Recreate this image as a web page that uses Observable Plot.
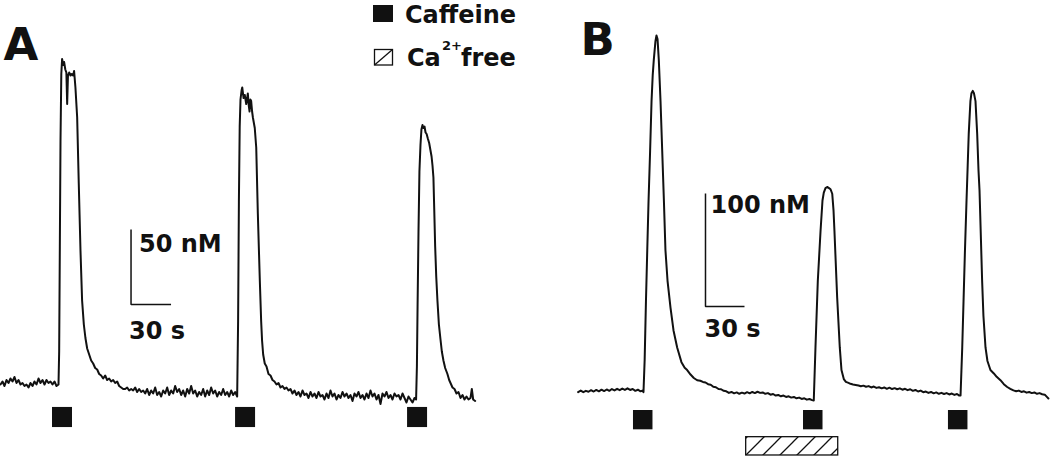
<!DOCTYPE html>
<html><head><meta charset="utf-8">
<script src="https://cdn.jsdelivr.net/npm/d3@7"></script>
<script src="https://cdn.jsdelivr.net/npm/@observablehq/plot@0.6"></script>
<style>
html,body{margin:0;padding:0;background:#fff;}
#fig{position:relative;width:1050px;height:456px;overflow:hidden;}
#panelA{position:absolute;left:0;top:0;}
#panelB{position:absolute;left:575px;top:0;}
#legend{position:absolute;left:0;top:0;pointer-events:none;}
</style></head><body>
<div id="fig">
<div id="panelA"></div>
<div id="panelB"></div>
<svg id="legend" width="1050" height="80" font-family="DejaVu Sans, sans-serif" font-weight="bold" fill="#111">
<rect x="373" y="5" width="20" height="17"/>
<text x="405" y="22.5" font-size="24">Caffeine</text>
<rect x="374.5" y="49.5" width="18" height="15.5" fill="none" stroke="#111" stroke-width="1.3"/>
<line x1="374.5" y1="65" x2="392.5" y2="49.5" stroke="#111" stroke-width="1.3"/>
<text x="407" y="65.7" font-size="24">Ca</text>
<text x="442" y="50" font-size="13">2+</text>
<text x="461" y="65.7" font-size="24">free</text>
</svg>
</div>
<script>
// ---- data: [time (s), [Ca2+]i (nM)] ----
const traceA = [
[0,98],[1.5,100],[3,97],[4.5,101],[6,99],[7.5,102],[9,100],[10.5,103],[12,99],[13.5,101],[15,98],[16.5,99],[18,97],[19.5,98],[21,96],[22.5,99],[24,97],[25.5,100],[27,98],[28.5,102],[30,99],[31.5,101],[33,98],[34.5,101],[36,99],[37.5,100],[39,98],[40.5,100],[42,97],[43.5,98],
[44,120],[44.5,190],[45,260],[45.6,305],[46.2,315],[47,311],[47.7,313],[48.6,308],[49.4,306],[50,285],[50.6,304],[51.5,306],[52.5,304],[53.5,305],[54.5,304],[55.2,307],[56.2,296],[57.5,276],[58.7,232],[60,187],[61.2,154],[62.5,138],[63.7,129],[65,122],[66.5,118],[68,114],[69.5,112],[71,109],[72.5,108],[74,105],[75.5,104],[77,102],[78.5,104],[80,101],[81.5,102],[83,100],[84.5,101],[86,99],[87.5,100],[89,97],[90.5,96],[92,95],
[93.5,95],[95,96],[96.5,94],[98,95],[99.5,94],[101,96],[102.5,93],[104,95],[105.5,93],[107,94],[108.5,92],[110,95],[111.5,91],[113,94],[114.5,92],[116,96],[117.5,91],[119,93],[120.5,90],[122,94],[123.5,92],[125,96],[126.5,91],[128,94],[129.5,92],[131,97],[132.5,93],[134,95],[135.5,91],[137,94],[138.5,90],[140,95],[141.5,92],[143,97],[144.5,92],[146,94],[147.5,90],[149,93],[150.5,91],[152,95],[153.5,90],[155,94],[156.5,91],[158,96],[159.5,92],[161,94],[162.5,90],[164,93],[165.5,91],[167,95],[168.5,91],[170,93],[171.5,90],[173,94],[174.5,91],[176,93],[177.5,90],
[178.2,140],[178.8,220],[179.4,270],[180,288],[180.8,294],[181.3,296],[182.3,289],[183.2,291],[184.3,285],[185.5,292],[186.2,284],[186.8,280],[187.4,288],[188,287],[188.7,280],[189.3,276],[190.7,269],[191.8,256],[193,212],[194.5,167],[195.5,140],[196.2,127],[197,118],[198.2,112],[199.5,110],[201,105],[202.5,104],[204,101],[205.5,100],[207,98],[208.5,99],[210,96],[211.5,97],[213,95],[214.5,96],[216,94],
[217.5,95],[219,92],[220.5,94],[222,91],[223.5,93],[225,90],[226.5,94],[228,91],[229.5,92],[231,89],[232.5,93],[234,90],[235.5,92],[237,89],[238.5,93],[240,90],[241.5,91],[243,88],[244.5,92],[246,89],[247.5,94],[249,90],[250.5,92],[252,88],[253.5,91],[255,89],[256.5,93],[258,90],[259.5,92],[261,89],[262.5,91],[264,87],[265.5,92],[267,90],[268.5,93],[270,89],[271.5,91],[273,88],[274.5,92],[276,89],[277.5,94],[279,90],[280.5,92],[282,88],[283.5,91],[285,85],[286.5,92],[288,90],[289.5,93],[291,89],[292.5,91],[294,88],[295.5,92],[297,90],[298.5,91],[300,88],[301.5,92],[303,89],[304.5,86],[306,90],[307.5,88],[309,86],[310.5,89],[311.7,88],
[312.3,110],[312.8,150],[313.5,200],[314.2,240],[315,258],[315.7,268],[316.5,271],[317.2,269],[318,270],[318.8,266],[319.6,265],[320.5,262],[321.5,259],[322.5,254],[323.3,250],[324,244],[324.7,236],[325.3,215],[326,190],[326.8,170],[327.7,154],[328.8,138],[330,128],[331,120],[332.2,114],[333.5,109],[335.2,105],[336.5,101],[337.5,99],[339,96],[340.5,95],[342,92],[343.5,93],[345,89],[346.5,91],[348,88],[349.5,90],[351,88],[352.5,89],[353.5,95],[354.5,88],[356,87]
];
const traceB = [
[2,99.5],[4,100.8],[6,99.4],[8,100.6],[10,99.8],[12,101.2],[14,100],[16,101.4],[18,100.2],[20,101.6],[22,100.4],[24,101.8],[26,100.6],[28,102.2],[30,101],[32,102.4],[34,101.2],[36,102.6],[38,101.4],[40,102.8],[42,101.4],[44,102.2],[46,100.6],[48,101.6],[50,100.2],[51.5,100.8],[52.3,99.5],
[53.2,128],[54.2,180],[55.2,225],[56.2,269],[57.4,313],[58.5,357],[59.4,380],[60.2,393],[61.5,410],[62.3,415],[63.1,412],[64.1,393],[65.4,357],[66.7,313],[68,269],[69.2,225],[70.8,198],[73.1,174],[75.4,154],[78.2,139],[81.5,126],[84,121],[85.9,119],[88.5,115],[91,112],[93.6,110],[96,109.5],[98,108.5],[100,108],
[102,106.5],[104,106],[106,104.2],[108,103.8],[110,102.2],[112,102],[114,100.6],[116,100.2],[118,98.8],[120,99.6],[122,98.4],[124,99.2],[126,98],[128,99],[130,98.2],[132,99.4],[134,98.4],[136,99.6],[138,98.6],[140,99.8],[142,98.8],[144,99.2],[146,98],[148,98.6],[150,97.2],[152,97.8],[154,96.4],[156,97],[158,95.8],[160,96.4],[162,95.2],[164,95.8],[166,94.6],[168,95.2],[170,94],[172,94.6],[174,93.4],[176,94],[178,92.8],[180,93.4],[182,92.4],[183.3,92],
[184.6,139],[186.4,198],[188.5,242],[190,269],[191,276],[192.3,280],[193.6,281],[195,280],[196.2,279],[197.5,275],[198.5,260],[199.2,242],[201.3,183],[203.3,139],[204.6,119],[206.4,111],[208,108.5],[210,107.6],[211.5,106.8],[213.5,106.2],[215.5,105.8],[217.7,105.3],
[219.5,104.6],[221.5,105.2],[223.5,104.2],[225.5,104.8],[227.5,103.6],[229.5,104.4],[231.5,103.2],[233.5,103.8],[235.5,102.8],[237.5,103.6],[239.5,102.4],[241.5,103.4],[243.5,102.2],[245.5,103],[247.5,102],[249.5,102.8],[251.5,101.6],[253.5,102.4],[255.5,101.2],[257.5,102],[259.5,100.6],[261.5,101.4],[263.5,100],[265.5,100.8],[267.5,99.4],[269.5,100],[271.5,98.8],[273.5,99.6],[275.5,98.4],[277.5,99.2],[279.5,98],[281.5,98.8],[283.5,97.8],[285.5,98.6],[287.5,97.4],[289.5,98.2],[291.5,97],[293.5,97.8],[295.2,96.4],[296.2,96.5],
[297.5,139],[298.5,180],[299.6,225],[300.8,269],[301.7,300],[302.5,328],[303.8,357],[304.6,364],[305.6,366],[306.5,364],[307.7,357],[309,328],[310,296],[310.8,278],[311.9,234],[312.8,198],[313.8,167],[315.4,139],[316.9,127],[319.2,119],[321.8,116],[324,113],[326.9,110],[329.5,106.5],[332.1,104],[334.5,102.4],[336.9,101],[339,100.2],[341,100.8],[343,99.6],[345,100.2],[347,99],[349,99.6],[351,98.6],[353,99.2],[355,98],[357,98.6],[359,97.6],[361,97.2],[362.8,95],[363.8,93.8]
];
const caffeineA = [39, 176.3, 305.3];      // application start (s)
const caffeineB = [44.6, 175.4, 286.9];
const caffeineDuration = 15;               // s
const calciumFreeB = [[131.3, 202.1]];     // Ca2+-free period (s)
const scaleBarA = {time: 30, conc: 50, timeLabel: "30 s", concLabel: "50 nM"};
const scaleBarB = {time: 30, conc: 100, timeLabel: "30 s", concLabel: "100 nM"};

// ---- layout ----
const layoutA = {label: "A", width: 575, x: [0, 431.25], y: [50, 354], bar: [97.9, 151.3],
  marker: [69.3, 82.7], labelDx: 3, labelDy: 28, concDx: 8, concDy: 22.5, timeDx: -2, timeDy: 34};
const layoutB = {label: "B", width: 475, x: [0, 365.4], y: [42.5, 446], bar: [100, 175.2],
  marker: [66.1, 83.2], freeRow: [43.4, 59.6], labelDx: 5, labelDy: 23, concDx: 5, concDy: 19.3, timeDx: -1, timeDy: 30.7};

const ink = "#111";
function panel(trace, caffeine, free, bar, L) {
  const [t0, c0] = L.bar;
  const barPts = [{t: t0, c: c0 + bar.conc}, {t: t0, c: c0}, {t: t0 + bar.time, c: c0}];
  const marks = [
    Plot.line(trace, {x: d => d[0], y: d => d[1], stroke: ink, strokeWidth: 2}),
    Plot.rect(caffeine, {x1: d => d, x2: d => d + caffeineDuration, y1: L.marker[0], y2: L.marker[1], fill: ink}),
    Plot.line(barPts, {x: "t", y: "c", stroke: ink, strokeWidth: 1.5, strokeLinecap: "butt", strokeLinejoin: "miter"}),
    Plot.text([barPts[0]], {x: "t", y: "c", text: () => bar.concLabel, textAnchor: "start", lineAnchor: "bottom",
      dx: L.concDx, dy: L.concDy, fontSize: 24, fontWeight: "bold", fill: ink}),
    Plot.text([barPts[1]], {x: "t", y: "c", text: () => bar.timeLabel, textAnchor: "start", lineAnchor: "bottom",
      dx: L.timeDx, dy: L.timeDy, fontSize: 24, fontWeight: "bold", fill: ink}),
    Plot.text([L.label], {frameAnchor: "top-left", textAnchor: "start", lineAnchor: "top",
      dx: L.labelDx, dy: L.labelDy, fontSize: 45, fontWeight: "bold", fill: ink})
  ];
  if (free) marks.push(Plot.rect(free, {x1: d => d[0], x2: d => d[1], y1: L.freeRow[0], y2: L.freeRow[1],
    fill: "url(#hatch)", stroke: ink, strokeWidth: 1.3}));
  return Plot.plot({
    width: L.width, height: 456, margin: 0,
    x: {domain: L.x, axis: null}, y: {domain: L.y, axis: null},
    style: {fontFamily: "'DejaVu Sans', sans-serif", background: "transparent", color: ink},
    marks
  });
}

const svgA = panel(traceA, caffeineA, null, scaleBarA, layoutA);
const svgB = panel(traceB, caffeineB, calciumFreeB, scaleBarB, layoutB);
const defs = d3.select(svgB).insert("defs", ":first-child");
const pat = defs.append("pattern").attr("id", "hatch").attr("patternUnits", "userSpaceOnUse")
  .attr("width", 17).attr("height", 17).attr("patternTransform", "translate(14,0)");
pat.append("rect").attr("width", 17).attr("height", 17).attr("fill", "#fff");
pat.append("path").attr("d", "M-2,19L19,-2M-2,2L2,-2M15,19L19,15").attr("stroke", ink).attr("stroke-width", 1.3);
document.getElementById("panelA").appendChild(svgA);
document.getElementById("panelB").appendChild(svgB);
</script>
</body></html>
